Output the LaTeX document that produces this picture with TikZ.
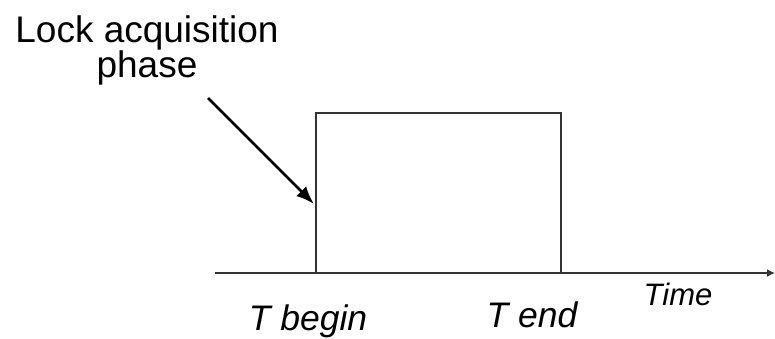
\documentclass[tikz,border=0pt]{standalone}
\usepackage{fontspec}
\setmainfont{Liberation Sans}
\usetikzlibrary{arrows.meta}
\begin{document}
\begin{tikzpicture}[x=1pt,y=-1pt,
  lbl/.style={inner sep=0pt,font=\fontsize{37}{42}\selectfont},
  tlbl/.style={inner sep=0pt,font=\fontsize{35.5}{40}\selectfont\itshape,anchor=base},
  wave/.style={line width=1.6pt,draw=black!80},
  axis/.style={line width=2pt,draw=black!80,-{Latex[length=8pt,width=8pt]}},
  pointer/.style={line width=2.8pt,-{Latex[length=18pt,width=14pt]}}]
\useasboundingbox (0,0) rectangle (775,339);
% label
\node[lbl,anchor=base] (l1) at (147,43) {Lock acquisition};
\node[lbl,anchor=base] (l2) at (147,78) {phase};
% axis
\coordinate (a0) at (215,273);
\coordinate (a1) at (775,273);
\draw[axis] (a0) -- (a1);
% pulse
\coordinate (p0) at (316,273);
\coordinate (p1) at (316,113);
\coordinate (p2) at (561,113);
\coordinate (p3) at (561,273);
\draw[wave] (p0) -- (p1) -- (p2) -- (p3);
% pointer
\coordinate (ps) at (208,98);
\coordinate (pt) at (314,204);
\draw[pointer] (ps) -- (pt);
% time labels
\node[tlbl] (tb) at (308,330) {T begin};
\node[tlbl] (te) at (532,327) {T end};
\node[tlbl,font=\fontsize{31}{35}\selectfont\itshape] (tm) at (678,305) {Time};
\end{tikzpicture}
\end{document}
